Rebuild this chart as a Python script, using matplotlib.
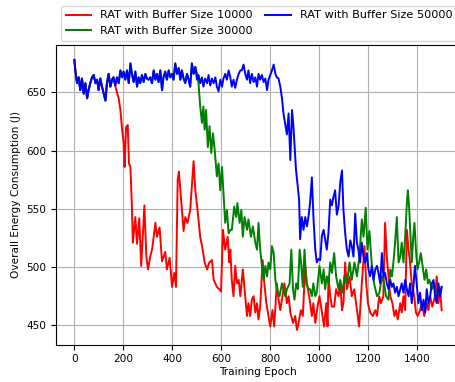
import numpy as np
import matplotlib
matplotlib.use("Agg")
import matplotlib.pyplot as plt

shared_epochs = [0, 4, 11, 18, 24, 31, 38, 45, 52, 58, 65, 72, 79, 86, 93, 99, 106, 113, 120, 127,
                 133, 140, 147, 154, 160, 167, 174, 181, 188, 195, 201, 208, 215, 222, 229, 235, 242, 249, 256, 262,
                 269, 276, 283, 290, 296, 303, 310, 317, 324, 331, 337, 344, 351, 358, 364, 371, 378, 385, 392, 399,
                 405, 412, 419, 426, 433, 439, 446, 453, 460, 467, 473, 480, 487, 494]
shared_energy = [678, 669, 658, 663, 652, 662, 649, 658, 645, 652, 658, 663, 665, 658, 661, 652, 662, 655, 649, 643,
                 658, 666, 655, 661, 663, 656, 663, 658, 669, 663, 668, 661, 669, 658, 675, 666, 659, 668, 655, 663,
                 658, 665, 659, 666, 662, 661, 663, 658, 669, 661, 666, 659, 669, 652, 663, 668, 661, 669, 663, 666,
                 661, 675, 666, 671, 661, 669, 662, 658, 666, 661, 655, 675, 666, 672]

# Buffer 10000 (rojo) a partir de la época 174
red_epochs = [174, 181, 188, 195, 201, 205, 211, 218, 223, 229, 235, 239, 249, 256, 265, 273, 286, 294, 301, 310,
              318, 331, 337, 348, 358, 371, 378, 389, 399, 408, 415, 422, 427, 433, 446, 453, 462, 473, 487, 494,
              503, 514, 524, 532, 542, 551, 562, 569, 582, 592, 599, 607, 616, 626, 633, 637, 643, 650, 657, 664,
              671, 678, 688, 698, 705, 711, 718, 725, 732, 739, 746, 752, 759, 769, 776, 784, 793, 800, 809, 816,
              827, 834, 841, 850, 858, 868, 875, 882, 893, 902, 909, 916, 925, 933, 943, 950, 959, 970, 976, 984,
              993, 1001, 1011, 1020, 1029, 1034, 1038, 1045, 1052, 1061, 1069, 1079, 1086, 1093, 1099, 1106, 1113, 1124, 1133, 1143,
              1154, 1163, 1174, 1185, 1192, 1199, 1208, 1219, 1229, 1236, 1245, 1252, 1262, 1269, 1276, 1283, 1290, 1299, 1307, 1314,
              1321, 1331, 1337, 1344, 1351, 1358, 1365, 1371, 1378, 1388, 1395, 1402, 1412, 1419, 1429, 1439, 1446, 1453, 1462, 1473,
              1480, 1487, 1494, 1500]
red_energy = [650, 645, 635, 618, 607, 586, 620, 622, 589, 586, 552, 521, 543, 520, 542, 501, 553, 509, 498, 509,
              516, 538, 526, 534, 505, 513, 498, 508, 483, 495, 483, 575, 582, 566, 531, 543, 538, 549, 591, 566,
              549, 526, 515, 504, 498, 504, 506, 489, 483, 481, 479, 532, 515, 526, 504, 515, 489, 475, 501, 486,
              489, 475, 498, 475, 458, 469, 458, 472, 475, 461, 469, 455, 466, 506, 486, 469, 458, 449, 463, 449,
              486, 472, 463, 475, 486, 469, 475, 461, 452, 458, 446, 452, 463, 458, 501, 486, 475, 458, 469, 452,
              466, 475, 461, 449, 469, 449, 492, 475, 466, 466, 481, 475, 486, 463, 469, 504, 481, 492, 475, 481,
              463, 449, 486, 518, 486, 469, 461, 458, 463, 458, 475, 469, 475, 538, 509, 492, 475, 469, 458, 463,
              455, 469, 461, 475, 463, 532, 515, 504, 486, 475, 461, 458, 463, 469, 458, 469, 463, 475, 466, 475,
              492, 469, 481, 463]

# Buffer 30000 (verde) a partir de la época 501
green_epochs = [501, 507, 514, 521, 527, 532, 538, 545, 552, 559, 566, 573, 582, 589, 596, 603, 610, 616, 623, 630,
                637, 643, 653, 661, 666, 675, 682, 688, 695, 705, 711, 721, 729, 739, 746, 752, 759, 766, 773, 780,
                787, 793, 800, 807, 814, 821, 827, 838, 848, 854, 861, 868, 879, 886, 893, 899, 906, 913, 920, 926,
                933, 940, 947, 956, 963, 970, 976, 984, 990, 1001, 1011, 1018, 1024, 1031, 1038, 1045, 1052, 1061, 1069, 1079,
                1086, 1095, 1103, 1113, 1124, 1133, 1144, 1154, 1164, 1174, 1181, 1190, 1197, 1205, 1215, 1224, 1236, 1246, 1256, 1265,
                1273, 1283, 1290, 1297, 1303, 1310, 1317, 1324, 1331, 1337, 1344, 1351, 1358, 1362, 1367, 1373, 1378, 1384, 1389, 1395,
                1401, 1408, 1415, 1422, 1430, 1437, 1444, 1450, 1460, 1469, 1476, 1484, 1494, 1500]
green_energy = [666, 658, 638, 624, 638, 618, 635, 603, 621, 598, 615, 601, 578, 589, 566, 586, 561, 538, 549, 529,
                532, 532, 552, 543, 555, 538, 549, 526, 543, 532, 541, 526, 535, 521, 515, 538, 515, 501, 489, 501,
                492, 504, 498, 518, 512, 489, 481, 475, 486, 481, 475, 481, 486, 515, 481, 472, 486, 481, 515, 504,
                483, 515, 486, 481, 481, 475, 486, 475, 478, 501, 486, 498, 481, 492, 486, 504, 495, 512, 492, 481,
                489, 478, 492, 486, 504, 489, 504, 492, 509, 541, 526, 551, 515, 531, 501, 486, 475, 478, 492, 486,
                475, 472, 498, 492, 504, 521, 543, 504, 509, 521, 504, 526, 555, 566, 552, 526, 504, 526, 538, 515,
                498, 504, 512, 501, 489, 498, 486, 489, 481, 486, 475, 481, 478, 483]

# Buffer 50000 (azul) a partir de la época 501
blue_epochs = [501, 507, 514, 521, 527, 534, 542, 548, 555, 562, 569, 576, 582, 589, 596, 603, 609, 616, 623, 630,
               637, 643, 650, 657, 664, 671, 678, 684, 691, 698, 705, 711, 718, 725, 732, 739, 746, 752, 759, 766,
               773, 780, 787, 793, 800, 807, 814, 821, 827, 834, 841, 848, 854, 861, 868, 875, 882, 889, 895, 905,
               912, 918, 922, 929, 936, 943, 950, 956, 963, 970, 977, 984, 990, 997, 1004, 1011, 1018, 1024, 1031, 1038,
               1045, 1052, 1058, 1065, 1072, 1079, 1086, 1093, 1099, 1106, 1113, 1120, 1127, 1133, 1140, 1147, 1154, 1160, 1167, 1174,
               1181, 1188, 1195, 1201, 1208, 1215, 1222, 1229, 1236, 1242, 1249, 1256, 1262, 1269, 1276, 1283, 1290, 1297, 1303, 1310,
               1317, 1324, 1331, 1337, 1344, 1351, 1358, 1365, 1371, 1378, 1384, 1391, 1398, 1405, 1412, 1419, 1426, 1433, 1439, 1446,
               1453, 1460, 1467, 1473, 1480, 1487, 1494, 1500]
blue_energy = [661, 665, 658, 663, 655, 662, 658, 665, 656, 662, 658, 663, 655, 651, 661, 655, 662, 666, 661, 669,
               663, 655, 661, 654, 661, 666, 669, 669, 674, 666, 661, 669, 658, 666, 659, 663, 655, 666, 661, 665,
               659, 662, 652, 661, 665, 669, 674, 666, 663, 662, 655, 645, 632, 623, 614, 632, 592, 635, 620, 584,
               570, 557, 524, 543, 532, 543, 535, 543, 556, 577, 540, 515, 504, 507, 506, 527, 532, 524, 515, 530,
               558, 553, 560, 566, 545, 552, 573, 583, 549, 529, 515, 509, 523, 518, 509, 546, 521, 515, 504, 521,
               509, 504, 512, 498, 492, 501, 489, 498, 501, 495, 486, 512, 492, 495, 486, 481, 489, 483, 486, 478,
               483, 475, 481, 486, 478, 489, 481, 475, 486, 469, 481, 501, 486, 469, 478, 463, 472, 461, 481, 469,
               475, 486, 489, 475, 469, 486, 475, 483]

n_red = shared_epochs.index(167) + 1
red_x = shared_epochs[:n_red] + red_epochs
red_y = shared_energy[:n_red] + red_energy
green_x = shared_epochs + green_epochs
green_y = shared_energy + green_energy
blue_x = shared_epochs + blue_epochs
blue_y = shared_energy + blue_energy

fs = 7.6
fig = plt.figure(figsize=(4.55, 3.82), dpi=100)
ax = fig.add_axes([56 / 455, 1 - 344.5 / 382, 404 / 455, (344.5 - 45) / 382])

l1, = ax.plot(red_x, red_y, color="red", lw=1.4, label="RAT with Buffer Size 10000")
l2, = ax.plot(green_x, green_y, color="green", lw=1.4, label="RAT with Buffer Size 30000")
l3, = ax.plot(blue_x, blue_y, color="blue", lw=1.4, label="RAT with Buffer Size 50000")

ax.set_xlim(-75, 1575)
ax.set_ylim(433.5, 690.8)
ax.set_xticks([0, 200, 400, 600, 800, 1000, 1200, 1400])
ax.set_yticks([450, 500, 550, 600, 650])
ax.tick_params(labelsize=fs)
ax.set_xlabel("Training Epoch", fontsize=fs, labelpad=2)
ax.set_ylabel("Overall Energy Consumption (J)", fontsize=fs, labelpad=4)
ax.grid(True)

fig.legend(handles=[l1, l2, l3], loc="upper left", bbox_to_anchor=(61 / 455, 1 - 6 / 382),
           ncol=2, fontsize=8.1, handlelength=2.3, columnspacing=1.1, borderaxespad=0,
           labelspacing=0.5)

fig.savefig("out.png", dpi=100)
